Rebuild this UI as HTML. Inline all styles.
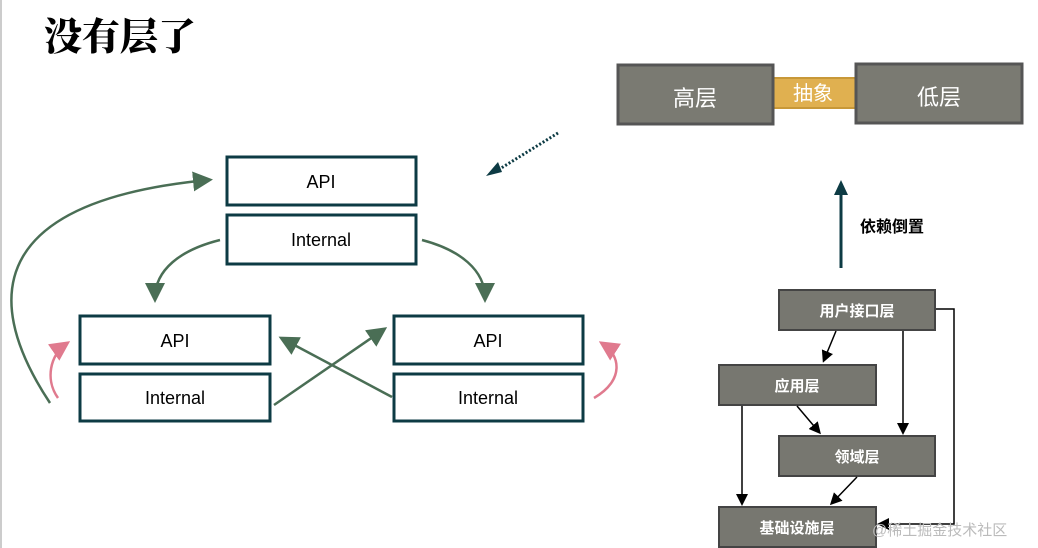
<!DOCTYPE html>
<html><head><meta charset="utf-8"><style>
html,body{margin:0;padding:0;background:#fff;}
svg{display:block;}
text{font-family:"Liberation Sans","Noto Sans CJK SC",sans-serif;}
</style></head><body>
<svg width="1038" height="548" viewBox="0 0 1038 548" xmlns="http://www.w3.org/2000/svg">
<defs>
<marker id="g" markerWidth="8" markerHeight="8" refX="6" refY="4" orient="auto" markerUnits="strokeWidth"><path d="M0,0 L8,4 L0,8 Z" fill="#4a6e55"/></marker>
<marker id="p" markerWidth="8" markerHeight="8" refX="6" refY="4" orient="auto" markerUnits="strokeWidth"><path d="M0,0 L8,4 L0,8 Z" fill="#e07a8e"/></marker>
<marker id="b" markerWidth="8" markerHeight="8" refX="6" refY="4" orient="auto" markerUnits="strokeWidth"><path d="M0,0 L8,4 L0,8 Z" fill="#000"/></marker>
</defs>
<rect x="0" y="0" width="2" height="548" fill="#ccc"/>
<text x="44" y="50" font-size="38" font-weight="900" fill="#000" style="font-family:'Noto Serif CJK SC',serif">没有层了</text>

<g fill="#fff" stroke="#0d3b44" stroke-width="3">
<rect x="227" y="157" width="189" height="48"/>
<rect x="227" y="215" width="189" height="49"/>
<rect x="80" y="316" width="190" height="48"/>
<rect x="80" y="374" width="190" height="47"/>
<rect x="394" y="316" width="189" height="48"/>
<rect x="394" y="374" width="189" height="47"/>
</g>
<g font-size="18" fill="#000" text-anchor="middle">
<text x="321" y="188">API</text>
<text x="321" y="246">Internal</text>
<text x="175" y="347">API</text>
<text x="175" y="404">Internal</text>
<text x="488" y="347">API</text>
<text x="488" y="404">Internal</text>
</g>
<g fill="none" stroke="#4a6e55" stroke-width="2.5">
<path d="M50,403 C-25,290 0,200 208,180" marker-end="url(#g)"/>
<path d="M220,240 C180,250 155,270 155,298" marker-end="url(#g)"/>
<path d="M422,240 C460,250 485,270 485,298" marker-end="url(#g)"/>
<path d="M274,405 L383,330" marker-end="url(#g)"/>
<path d="M392,397 L283,339" marker-end="url(#g)"/>
</g>
<g fill="none" stroke="#e07a8e" stroke-width="2.5">
<path d="M58,398 C45,380 50,355 66,344" marker-end="url(#p)"/>
<path d="M594,398 C625,380 620,355 603,344" marker-end="url(#p)"/>
</g>
<path d="M558,133 L498,170" stroke="#0d3b44" stroke-width="3" stroke-dasharray="2,2" fill="none"/>
<path d="M486,176 L498,162 L502,172 Z" fill="#0d3b44"/>

<rect x="771" y="78" width="85" height="30" fill="#e0b050" stroke="#c89838" stroke-width="2"/>
<text x="813" y="100" font-size="20" fill="#fff" text-anchor="middle">抽象</text>
<rect x="618" y="65" width="155" height="59" fill="#7a7a72" stroke="#555" stroke-width="3"/>
<rect x="856" y="64" width="166" height="59" fill="#7a7a72" stroke="#555" stroke-width="3"/>
<text x="695" y="106" font-size="22" fill="#fff" text-anchor="middle">高层</text>
<text x="939" y="105" font-size="22" fill="#fff" text-anchor="middle">低层</text>

<line x1="841" y1="268" x2="841" y2="195" stroke="#0d3b44" stroke-width="3"/>
<path d="M834,195 L841,180 L848,195 Z" fill="#0d3b44"/>
<text x="860" y="232" font-size="16" font-weight="bold" fill="#000">依赖倒置</text>

<g fill="#777770" stroke="#444" stroke-width="2">
<rect x="779" y="290" width="156" height="40"/>
<rect x="719" y="365" width="157" height="40"/>
<rect x="779" y="436" width="156" height="40"/>
<rect x="719" y="507" width="157" height="40"/>
</g>
<g font-size="15" fill="#fff" text-anchor="middle" font-weight="bold">
<text x="857" y="316">用户接口层</text>
<text x="797" y="391">应用层</text>
<text x="857" y="462">领域层</text>
<text x="797" y="533">基础设施层</text>
</g>
<g stroke="#000" stroke-width="1.5" fill="none">
<path d="M836,331 L824,360" marker-end="url(#b)"/>
<path d="M903,331 L903,432" marker-end="url(#b)"/>
<path d="M742,406 L742,503" marker-end="url(#b)"/>
<path d="M797,406 L819,432" marker-end="url(#b)"/>
<path d="M857,477 L832,503" marker-end="url(#b)"/>
<path d="M936,309 L954,309 L954,524 L880,524" marker-end="url(#b)"/>
</g>
<text x="872" y="535" font-size="15" fill="#bbb">@稀土掘金技术社区</text>
</svg>
</body></html>
